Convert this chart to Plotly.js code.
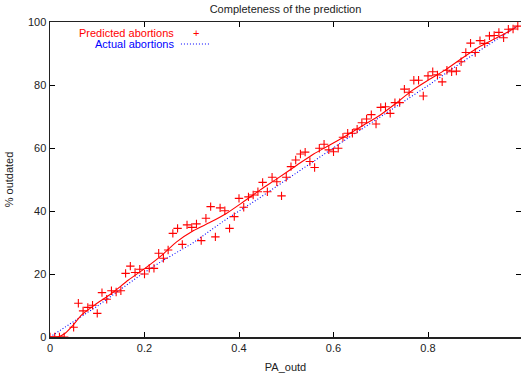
<!DOCTYPE html>
<html>
<head>
<meta charset="utf-8">
<script src="https://cdn.plot.ly/plotly-3.0.1.min.js"></script>
<style>html,body{margin:0;padding:0;background:#fff;}#chart{width:521px;height:379px;}</style>
</head>
<body>
<div id="chart"></div>
<script>
// Predicted abortions (points), x = PA_outd
var predX = [0,0.01,0.02,0.03,0.05,0.06,0.07,0.08,0.09,0.10,0.11,0.12,0.13,0.14,0.15,0.16,0.17,0.18,0.19,0.20,
  0.21,0.22,0.23,0.24,0.25,0.26,0.27,0.28,0.29,0.30,0.31,0.32,0.33,0.34,0.35,0.36,0.37,0.38,0.39,0.40,
  0.41,0.42,0.43,0.44,0.45,0.46,0.47,0.48,0.49,0.50,0.51,0.52,0.53,0.54,0.55,0.56,0.57,0.58,0.59,0.60,
  0.61,0.62,0.63,0.64,0.65,0.66,0.67,0.68,0.69,0.70,0.71,0.72,0.73,0.74,0.75,0.76,0.77,0.78,0.79,0.80,
  0.81,0.82,0.83,0.84,0.85,0.86,0.87,0.88,0.89,0.90,0.91,0.92,0.93,0.94,0.95,0.96,0.97,0.98,0.99];
var predY = [0,0,0,0,3.1,10.7,8.3,9.4,10.1,7.5,14.1,12.0,14.7,14.3,14.7,20.2,22.5,20.5,21.5,20.0,
  21.8,21.8,26.6,25.0,27.6,32.9,34.5,29.4,35.6,34.8,35.9,30.6,37.7,41.4,31.8,41.0,40.1,34.5,38.2,44.0,
  41.2,44.5,45.1,46.1,49.1,46.1,50.7,49.3,44.8,50.7,54.1,56.2,58.1,58.7,55.7,53.8,59.9,61.2,59.4,58.8,
  59.9,63.4,64.7,64.7,66.0,68.0,69.2,70.6,67.6,72.9,73.1,71.0,74.4,74.4,78.7,77.7,81.5,81.5,76.5,82.9,
  84.2,83.2,81.0,84.7,84.2,84.4,87.4,90.3,93.3,90.3,94.1,93.2,95.6,95.7,96.7,95.0,97.7,97.8,98.7];

// Smoothed curve of the predicted abortions
var smoothX = [0,0.018,0.032,0.049,0.067,0.095,0.131,0.166,0.201,0.237,0.268,0.304,0.339,0.374,0.410,0.445,0.480,
  0.523,0.558,0.593,0.629,0.664,0.699,0.733,0.766,0.801,0.837,0.872,0.907,0.943,0.977,0.99];
var smoothY = [0,0.1,1.2,3.8,7.0,10.2,13.9,18.1,21.8,26.0,30.2,33.8,36.4,39.3,43.0,46.7,50.2,
  54.6,58.1,61.0,64.1,67.3,70.5,74.3,78.2,81.6,84.8,88.5,92.0,94.8,97.5,98.7];

// Actual abortions
var actualX = [0,0.05,0.10,0.19,0.24,0.30,0.374,0.44,0.50,0.56,0.629,0.70,0.731,0.80,0.872,0.93,0.99];
var actualY = [0,5.0,9.8,19.5,24.4,29.6,37.5,43.8,50.0,56.0,63.0,70.0,73.0,79.8,87.3,93.0,98.8];

var xTicks = [0,0.2,0.4,0.6,0.8];
var xTickText = ['0','0.2','0.4','0.6','0.8'];
var yTicks = [0,20,40,60,80,100];

var F = 'Liberation Sans, Arial, sans-serif';

var traces = [
  {x: actualX, y: actualY, mode: 'lines', name: 'Actual abortions',
   line: {color: '#0000ff', width: 1.1, dash: '1px,2px'}, showlegend: false},
  {x: smoothX, y: smoothY, mode: 'lines', name: 'Predicted (smoothed)',
   line: {color: '#ff0000', width: 1.1, shape: 'spline', smoothing: 0.6}, showlegend: false},
  {x: predX, y: predY, mode: 'markers', name: 'Predicted abortions',
   marker: {symbol: 'cross-thin', size: 6, color: '#ff0000', line: {color: '#ff0000', width: 1.1}},
   showlegend: false}
];

var layout = {
  width: 521, height: 379,
  margin: {l: 50, r: 0, t: 22, b: 42},
  paper_bgcolor: '#fff', plot_bgcolor: '#fff',
  font: {family: F, size: 11, color: '#222'},
  showlegend: false,
  title: {text: 'Completeness of the prediction', font: {family: F, size: 11, color: '#222'},
          x: 0.548, xanchor: 'center', y: 0.985, yanchor: 'top'},
  xaxis: {range: [0, 0.9968], tickvals: xTicks, ticktext: xTickText,
          ticks: 'inside', ticklen: 5, tickcolor: '#000', tickwidth: 1,
          showline: true, linecolor: '#222', linewidth: 1.5, mirror: 'ticks',
          showgrid: false, zeroline: false,
          title: {text: 'PA_outd', font: {family: F, size: 11, color: '#222'}, standoff: 10}},
  yaxis: {range: [0, 100], tickvals: yTicks,
          ticks: 'inside', ticklen: 5, tickcolor: '#000', tickwidth: 1,
          showline: true, linecolor: '#222', linewidth: 1.5, mirror: 'ticks',
          showgrid: false, zeroline: false,
          title: {text: '% outdated', font: {family: F, size: 11, color: '#222'}, standoff: 12}},
  annotations: [
    {xref: 'paper', yref: 'paper', x: 0.267, y: 0.965, xanchor: 'right', yanchor: 'middle',
     text: 'Predicted abortions', showarrow: false, font: {family: F, size: 11, color: '#ff0000'}},
    {xref: 'paper', yref: 'paper', x: 0.310, y: 0.966, xanchor: 'center', yanchor: 'middle',
     text: '+', showarrow: false, font: {family: F, size: 11, color: '#ff0000'}},
    {xref: 'paper', yref: 'paper', x: 0.267, y: 0.930, xanchor: 'right', yanchor: 'middle',
     text: 'Actual abortions', showarrow: false, font: {family: F, size: 11, color: '#0000ff'}}
  ],
  shapes: [
    {type: 'line', xref: 'paper', yref: 'paper', x0: 0.278, x1: 0.340, y0: 0.930, y1: 0.930,
     line: {color: '#0000ff', width: 1.1, dash: '1px,2px'}}
  ]
};

Plotly.newPlot('chart', traces, layout, {displayModeBar: false, staticPlot: true});
</script>
</body>
</html>
